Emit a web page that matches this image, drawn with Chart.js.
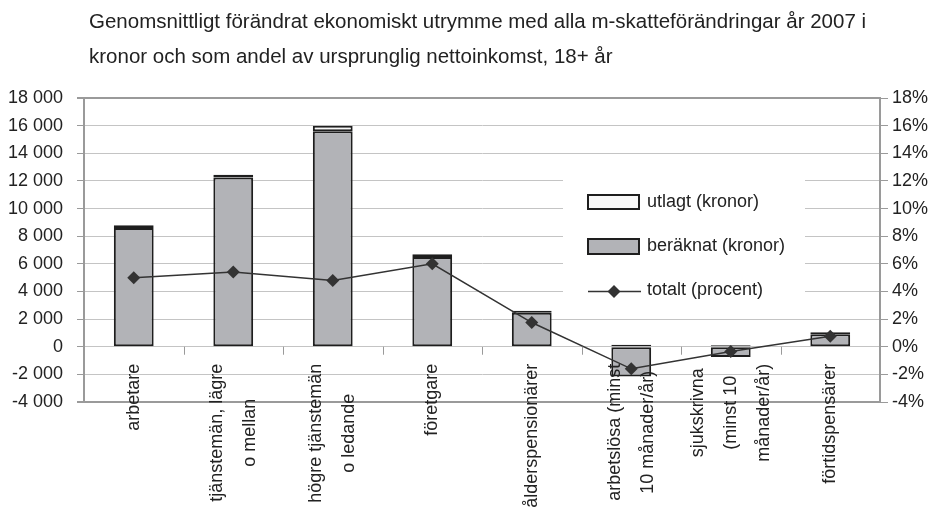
<!DOCTYPE html>
<html>
<head>
<meta charset="utf-8">
<script src="https://cdn.jsdelivr.net/npm/chart.js@4.4.1/dist/chart.umd.min.js"></script>
<style>
  html, body { margin: 0; padding: 0; background: #fff; }
  #wrap { width: 935px; height: 509px; }
</style>
</head>
<body>
<div id="wrap"><canvas id="chart"></canvas></div>
<script>
// data
const titleLines = [
  'Genomsnittligt förändrat ekonomiskt utrymme med alla m-skatteförändringar år 2007 i',
  'kronor och som andel av ursprunglig nettoinkomst, 18+ år'
];
const categories = [
  ['arbetare'],
  ['tjänstemän, lägre', 'o mellan'],
  ['högre tjänstemän', 'o ledande'],
  ['företgare'],
  ['ålderspensionärer'],
  ['arbetslösa (minst', '10 månader/år)'],
  ['sjukskrivna', '(minst 10', 'månader/år)'],
  ['förtidspensärer']
];
const beraknat = [8600, 12250, 15600, 6500, 2450, -2150, -750, 900];
const utlagt = [200, 200, 400, 200, 150, 150, 100, 150];
const totaltProcent = [5.0, 5.4, 4.8, 6.0, 1.75, -1.6, -0.35, 0.75];
const kronorTicks = [-4000, 18000, 2000];   // min, max, step
const procentTicks = [-4, 18, 2];
const seriesNames = ['utlagt (kronor)', 'beräknat (kronor)', 'totalt (procent)'];

const FONT = "'Liberation Sans', Arial, sans-serif";
const TEXT = '#222';
const GRID = '#c4c4c4';
const FRAME = '#9a9a9a';
const EDGE = '#1e1e1e';
const GRAY_FILL = '#b2b3b7';
const WHITE_FILL = '#f8f8f8';

function formatKr(v) {
  return String(v).replace(/\B(?=(\d{3})+(?!\d))/g, ' ');
}

const overlay = {
  id: 'overlay',
  afterDraw(chart) {
    const ctx = chart.ctx;
    const xs = chart.scales.x;
    const ys = chart.scales.y;
    const zeroY = ys.getPixelForValue(0);
    ctx.save();

    // title
    ctx.fillStyle = TEXT;
    ctx.font = '20.5px ' + FONT;
    ctx.textAlign = 'left';
    ctx.textBaseline = 'middle';
    titleLines.forEach((t, i) => ctx.fillText(t, 89, 22 + i * 35));

    // category tick marks on the zero line
    const half = (xs.getPixelForValue(1) - xs.getPixelForValue(0)) / 2;
    ctx.strokeStyle = FRAME;
    ctx.lineWidth = 1;
    for (let i = 0; i <= categories.length; i++) {
      const x = Math.round(xs.getPixelForValue(i) - half) + 0.5;
      ctx.beginPath();
      ctx.moveTo(x, zeroY);
      ctx.lineTo(x, zeroY + 8);
      ctx.stroke();
    }

    // rotated category labels, lines centred on each other
    ctx.font = '18px ' + FONT;
    ctx.fillStyle = TEXT;
    ctx.textAlign = 'center';
    ctx.textBaseline = 'middle';
    const top = zeroY + 17;
    categories.forEach((lines, i) => {
      const x = xs.getPixelForValue(i);
      const maxW = Math.max(...lines.map(l => ctx.measureText(l).width));
      lines.forEach((l, j) => {
        const dx = (j - (lines.length - 1) / 2) * 33;
        ctx.save();
        ctx.translate(x + dx, top + maxW / 2);
        ctx.rotate(-Math.PI / 2);
        ctx.fillText(l, 0, 0);
        ctx.restore();
      });
    });

    // legend inside the plot
    ctx.fillStyle = '#fff';
    ctx.fillRect(563, 168, 242, 137);
    ctx.lineWidth = 2;
    ctx.strokeStyle = EDGE;
    ctx.fillStyle = WHITE_FILL;
    ctx.fillRect(588, 195, 51, 14);
    ctx.strokeRect(588, 195, 51, 14);
    ctx.fillStyle = GRAY_FILL;
    ctx.fillRect(588, 239, 51, 15);
    ctx.strokeRect(588, 239, 51, 15);
    ctx.lineWidth = 1.5;
    ctx.strokeStyle = '#333';
    ctx.beginPath();
    ctx.moveTo(588, 291.5);
    ctx.lineTo(641, 291.5);
    ctx.stroke();
    ctx.fillStyle = '#333';
    ctx.beginPath();
    ctx.moveTo(614, 285);
    ctx.lineTo(620.5, 291.5);
    ctx.lineTo(614, 298);
    ctx.lineTo(607.5, 291.5);
    ctx.closePath();
    ctx.fill();
    ctx.fillStyle = TEXT;
    ctx.textAlign = 'left';
    ctx.textBaseline = 'middle';
    ctx.fillText(seriesNames[0], 647, 202);
    ctx.fillText(seriesNames[1], 647, 246);
    ctx.fillText(seriesNames[2], 647, 290);

    ctx.restore();
  }
};

new Chart(document.getElementById('chart'), {
  type: 'bar',
  data: {
    labels: categories,
    datasets: [
      {
        type: 'line',
        label: seriesNames[2],
        data: totaltProcent,
        yAxisID: 'y1',
        order: 0,
        borderColor: '#333',
        borderWidth: 1.5,
        pointStyle: 'rectRot',
        pointRadius: 6.5,
        pointBackgroundColor: '#333',
        pointBorderColor: '#333',
        pointBorderWidth: 0,
        tension: 0
      },
      {
        label: seriesNames[1],
        data: beraknat,
        yAxisID: 'y',
        order: 1,
        backgroundColor: GRAY_FILL,
        borderColor: EDGE,
        borderWidth: 2,
        borderSkipped: false
      },
      {
        label: seriesNames[0],
        data: utlagt,
        yAxisID: 'y',
        order: 1,
        backgroundColor: WHITE_FILL,
        borderColor: EDGE,
        borderWidth: 2,
        borderSkipped: false
      }
    ]
  },
  options: {
    responsive: true,
    maintainAspectRatio: false,
    animation: false,
    layout: { padding: { top: 98, left: 0, right: 0, bottom: 0 } },
    datasets: {
      bar: { barPercentage: 0.4, categoryPercentage: 1 }
    },
    plugins: {
      legend: { display: false },
      title: { display: false },
      tooltip: { enabled: false }
    },
    scales: {
      x: {
        stacked: true,
        grid: { display: false },
        border: { display: false },
        ticks: { display: false },
        afterFit: s => { s.height = 107; }
      },
      y: {
        stacked: true,
        position: 'left',
        min: kronorTicks[0],
        max: kronorTicks[1],
        ticks: {
          stepSize: kronorTicks[2],
          color: TEXT,
          padding: 14,
          font: { family: FONT, size: 18 },
          callback: v => formatKr(v)
        },
        grid: {
          color: c => (c.tick && (c.tick.value === kronorTicks[0] || c.tick.value === kronorTicks[1])) ? FRAME : GRID,
          lineWidth: c => (c.tick && (c.tick.value === kronorTicks[0] || c.tick.value === kronorTicks[1])) ? 2 : 1,
          tickColor: FRAME,
          tickLength: 7
        },
        border: { display: true, color: FRAME, width: 2 },
        afterFit: s => { s.width = 84; }
      },
      y1: {
        position: 'right',
        min: procentTicks[0],
        max: procentTicks[1],
        ticks: {
          stepSize: procentTicks[2],
          color: TEXT,
          padding: 4,
          font: { family: FONT, size: 18 },
          callback: v => v + '%'
        },
        grid: { drawOnChartArea: false, tickColor: FRAME, tickLength: 8 },
        border: { display: true, color: FRAME, width: 2 },
        afterFit: s => { s.width = 55; }
      }
    }
  },
  plugins: [overlay]
});
</script>
</body>
</html>
